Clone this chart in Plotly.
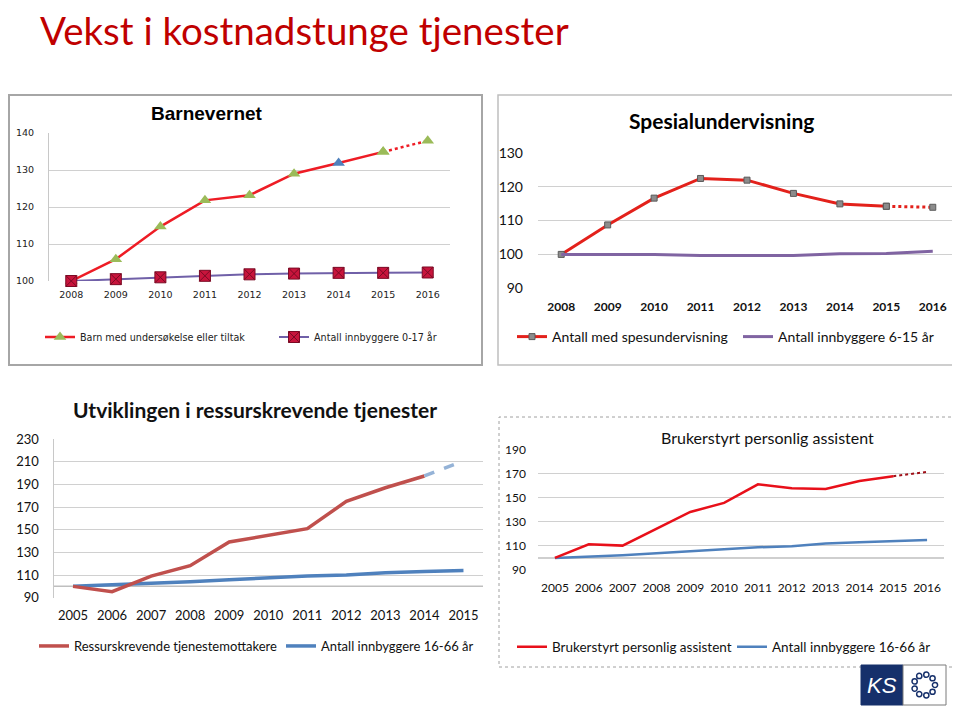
import math
import plotly.graph_objects as go

# ---------------- data ----------------
years_bv = ["2008", "2009", "2010", "2011", "2012", "2013", "2014", "2015", "2016"]
barn = [100, 105.9, 114.7, 121.8, 123.2, 129.0, 131.9, 134.9, 137.9]
pop_0_17 = [100, 100.5, 101.0, 101.4, 101.8, 102.0, 102.2, 102.2, 102.3]

years_sp = ["2008", "2009", "2010", "2011", "2012", "2013", "2014", "2015", "2016"]
spes = [100, 108.7, 116.6, 122.4, 121.9, 118.0, 114.9, 114.2, 113.9]
pop_6_15 = [100, 100.0, 100.0, 99.7, 99.7, 99.7, 100.2, 100.3, 100.9]

years_rt = ["2005", "2006", "2007", "2008", "2009", "2010", "2011", "2012", "2013", "2014", "2015"]
ress = [100, 95.3, 109.1, 118.2, 139.1, 145.3, 150.9, 175.0, 187.0, 197.4, 210.6]
pop_16_66_a = [100, 101.2, 102.6, 104.1, 105.9, 107.6, 109.1, 110.0, 112.0, 113.2, 114.1]

years_bpa = ["2005", "2006", "2007", "2008", "2009", "2010", "2011", "2012", "2013", "2014", "2015", "2016"]
bpa = [100, 111.3, 110.2, 124.3, 138.1, 145.6, 161.0, 157.8, 157.2, 163.8, 167.7, 171.3]
pop_16_66_b = [100, 100.8, 102.2, 103.9, 105.5, 106.9, 108.8, 109.7, 111.9, 113.0, 114.1, 114.9]

# the page body has an 8px margin: the figure covers 8..960 x 8..717 of the window
OFF = 8
W, H = 960 - OFF, 717 - OFF
def px(x): return (x - OFF) / W
def py(y): return 1 - (y - OFF) / H

CAL = "Lato"
fig = go.Figure()

# ---------- Panel 1: Barnevernet ----------
tri_colors = ["#9BBB59"] * len(barn)
tri_colors[6] = "#4F81BD"
fig.add_trace(go.Scatter(x=years_bv[:-1], y=barn[:-1], mode="lines+markers", name="Barn med undersøkelse eller tiltak",
                         line=dict(color="#EE1C25", width=2.5),
                         marker=dict(symbol="triangle-up", size=11, color=tri_colors[:-1]),
                         xaxis="x", yaxis="y", legend="legend", cliponaxis=False))
fig.add_trace(go.Scatter(x=years_bv[-2:], y=barn[-2:], mode="lines+markers", showlegend=False,
                         line=dict(color="#EE1C25", width=2.5, dash="dot"),
                         marker=dict(symbol="triangle-up", size=11, color=tri_colors[-2:]),
                         xaxis="x", yaxis="y", cliponaxis=False))
fig.add_trace(go.Scatter(x=years_bv, y=pop_0_17, mode="lines+markers", name="Antall innbyggere 0-17 år",
                         line=dict(color="#7060A8", width=2),
                         marker=dict(symbol="square-x", size=11, color="#C8143C", line=dict(color="#7A0A24", width=1)),
                         xaxis="x", yaxis="y", legend="legend5", cliponaxis=False))

# ---------- Panel 2: Spesialundervisning ----------
fig.add_trace(go.Scatter(x=years_sp[:-1], y=spes[:-1], mode="lines+markers", name="Antall med spesundervisning",
                         line=dict(color="#E3211B", width=3),
                         marker=dict(symbol="square", size=6, color="#8C8C8C", line=dict(color="#5A5A5A", width=1)),
                         xaxis="x2", yaxis="y2", legend="legend2", cliponaxis=False))
fig.add_trace(go.Scatter(x=years_sp[-2:], y=spes[-2:], mode="lines+markers", showlegend=False,
                         line=dict(color="#E3211B", width=3, dash="dot"),
                         marker=dict(symbol="square", size=6, color="#8C8C8C", line=dict(color="#5A5A5A", width=1)),
                         xaxis="x2", yaxis="y2", cliponaxis=False))
fig.add_trace(go.Scatter(x=years_sp, y=pop_6_15, mode="lines", name="Antall innbyggere 6-15 år",
                         line=dict(color="#8064A2", width=3),
                         xaxis="x2", yaxis="y2", legend="legend6"))

# ---------- Panel 3: Utviklingen i ressurskrevende tjenester ----------
fig.add_trace(go.Scatter(x=years_rt, y=pop_16_66_a, mode="lines", name="Antall innbyggere 16-66 år",
                         line=dict(color="#4F81BD", width=3.5),
                         xaxis="x3", yaxis="y3", legend="legend7"))
fig.add_trace(go.Scatter(x=years_rt[:-1], y=ress[:-1], mode="lines", name="Ressurskrevende tjenestemottakere",
                         line=dict(color="#C0504D", width=3.5),
                         xaxis="x3", yaxis="y3", legend="legend3"))
fig.add_trace(go.Scatter(x=years_rt[-2:], y=ress[-2:], mode="lines", showlegend=False,
                         line=dict(color="#95B3D7", width=3.5, dash="dash"),
                         xaxis="x3", yaxis="y3"))

# ---------- Panel 4: Brukerstyrt personlig assistent ----------
fig.add_trace(go.Scatter(x=years_bpa, y=pop_16_66_b, mode="lines", name="Antall innbyggere 16-66 år",
                         line=dict(color="#4F81BD", width=2.5),
                         xaxis="x4", yaxis="y4", legend="legend8"))
fig.add_trace(go.Scatter(x=years_bpa[:-1], y=bpa[:-1], mode="lines", name="Brukerstyrt personlig assistent",
                         line=dict(color="#E8101A", width=2.5),
                         xaxis="x4", yaxis="y4", legend="legend4"))
fig.add_trace(go.Scatter(x=years_bpa[-2:], y=bpa[-2:], mode="lines", showlegend=False,
                         line=dict(color="#A01018", width=2, dash="dot"),
                         xaxis="x4", yaxis="y4"))

grid = "#D0D0D0"

def xax(domain, anchor, ncat, font, standoff):
    return dict(domain=domain, anchor=anchor, type="category", range=[-0.5, ncat - 0.5],
                showgrid=False, zeroline=False, showline=False, ticks="", tickfont=font,
                ticklabelstandoff=standoff, fixedrange=True)

def yax(domain, anchor, rng, dtick, font, standoff, showline=False):
    return dict(domain=domain, anchor=anchor, range=rng, tick0=rng[0], dtick=dtick, showgrid=True,
                gridcolor=grid, gridwidth=1, zeroline=False, showline=showline, linecolor="#C8C8C8",
                ticks="", tickfont=font, ticklabelstandoff=standoff, fixedrange=True)

def leg(text_x, y, font):
    return dict(x=px(text_x - 40), y=py(y), xanchor="left", yanchor="middle", orientation="h",
                font=font, bgcolor="rgba(0,0,0,0)", itemwidth=30)

f1 = dict(family="DejaVu Sans", size=9.6, color="#222")
f2 = dict(family=CAL, size=14, color="#111")
f3 = dict(family=CAL, size=13, color="#111")
f4 = dict(family=CAL, size=13.5, color="#111")

fig.update_layout(
    width=W, height=H, margin=dict(l=0, r=0, t=0, b=0),
    paper_bgcolor="white", plot_bgcolor="white", template="none",
    xaxis=xax([px(49), px(450)], "y", len(years_bv), dict(family="DejaVu Sans", size=9.5, color="#222"), 6),
    yaxis=yax([py(281), py(133)], "x", [100, 140], 10, dict(family="DejaVu Sans", size=9.5, color="#222"), 12, True),
    xaxis2=xax([px(538), px(956)], "y2", len(years_sp), dict(family=CAL, size=12, color="#111", weight="bold"), 10),
    yaxis2=yax([py(288.3), py(152.7)], "x2", [90, 130], 10, dict(family=CAL, size=14, color="#111"), 14),
    xaxis3=xax([px(53.5), px(483)], "y3", len(years_rt), dict(family=CAL, size=13, color="#111"), 8),
    yaxis3=yax([py(597.7), py(439)], "x3", [90, 230], 20, dict(family=CAL, size=13, color="#111"), 11, True),
    xaxis4=xax([px(538), px(944)], "y4", len(years_bpa), dict(family=CAL, size=12, color="#111"), 9),
    yaxis4=yax([py(570), py(449.3)], "x4", [90, 190], 20, dict(family=CAL, size=12, color="#111"), 11),
    legend=leg(80, 337, f1),
    legend5=leg(314, 337, f1),
    legend2=leg(552, 337, f2),
    legend6=leg(778, 337, f2),
    legend3=leg(74, 646, f3),
    legend7=leg(321, 646, f3),
    legend4=leg(552, 647, f4),
    legend8=leg(772, 647, f4),
    showlegend=True,
)

shapes = [
    # panel frames
    dict(type="rect", xref="paper", yref="paper", x0=px(9), x1=px(482), y0=py(365), y1=py(95),
         line=dict(color="#A6A6A6", width=2), layer="below"),
    dict(type="rect", xref="paper", yref="paper", x0=px(498), x1=px(958), y0=py(365), y1=py(95),
         line=dict(color="#BFBFBF", width=1.5), layer="below"),
    dict(type="rect", xref="paper", yref="paper", x0=px(499), x1=px(957), y0=py(667), y1=py(417),
         line=dict(color="#A0A0A0", width=1, dash="dot"), layer="below"),
    # baseline at 100
    dict(type="line", xref="x3 domain", yref="y3", x0=0, x1=1, y0=100, y1=100,
         line=dict(color="#BFBFBF", width=1.5), layer="below"),
    dict(type="line", xref="x4 domain", yref="y4", x0=0, x1=1, y0=100, y1=100,
         line=dict(color="#BFBFBF", width=1.5), layer="below"),
    # KS logo
    dict(type="rect", xref="paper", yref="paper", x0=px(861), x1=px(903), y0=py(705), y1=py(665),
         line=dict(color="#16306B", width=1), fillcolor="#16306B"),
    dict(type="rect", xref="paper", yref="paper", x0=px(903), x1=px(946), y0=py(705), y1=py(665),
         line=dict(color="#7A7A7A", width=1), fillcolor="white"),
]
cx, cy, rr = 924.5, 685, 10.5
for k in range(9):
    a = 2 * math.pi * k / 9
    x = cx + rr * math.cos(a)
    y = cy + rr * math.sin(a)
    shapes.append(dict(type="circle", xref="paper", yref="paper",
                       x0=px(x - 2.6), x1=px(x + 2.6), y0=py(y + 2.6), y1=py(y - 2.6),
                       line=dict(color="#16306B", width=1.5), fillcolor="white"))
fig.update_layout(shapes=shapes)

annotations = [
    dict(text="Vekst i kostnadstunge tjenester", x=px(38), y=py(30), xref="paper", yref="paper",
         xanchor="left", yanchor="middle", showarrow=False,
         font=dict(family=CAL, size=38.5, color="#C00000")),
    dict(text="<b>Barnevernet</b>", x=px(207), y=py(113), xref="paper", yref="paper",
         xanchor="center", yanchor="middle", showarrow=False,
         font=dict(family="Liberation Sans", size=19, color="#000")),
    dict(text="<b>Spesialundervisning</b>", x=px(721), y=py(121), xref="paper", yref="paper",
         xanchor="center", yanchor="middle", showarrow=False,
         font=dict(family=CAL, size=21, color="#000")),
    dict(text="<b>Utviklingen i ressurskrevende tjenester</b>", x=px(255), y=py(409), xref="paper", yref="paper",
         xanchor="center", yanchor="middle", showarrow=False,
         font=dict(family=CAL, size=21, color="#111")),
    dict(text="Brukerstyrt personlig assistent", x=px(767), y=py(438), xref="paper", yref="paper",
         xanchor="center", yanchor="middle", showarrow=False,
         font=dict(family=CAL, size=16, color="#111")),
    dict(text="<i>KS</i>", x=px(882), y=py(685), xref="paper", yref="paper",
         xanchor="center", yanchor="middle", showarrow=False,
         font=dict(family="Liberation Sans", size=22, color="white")),
]
fig.update_layout(annotations=annotations)

fig.write_html("out.html")
